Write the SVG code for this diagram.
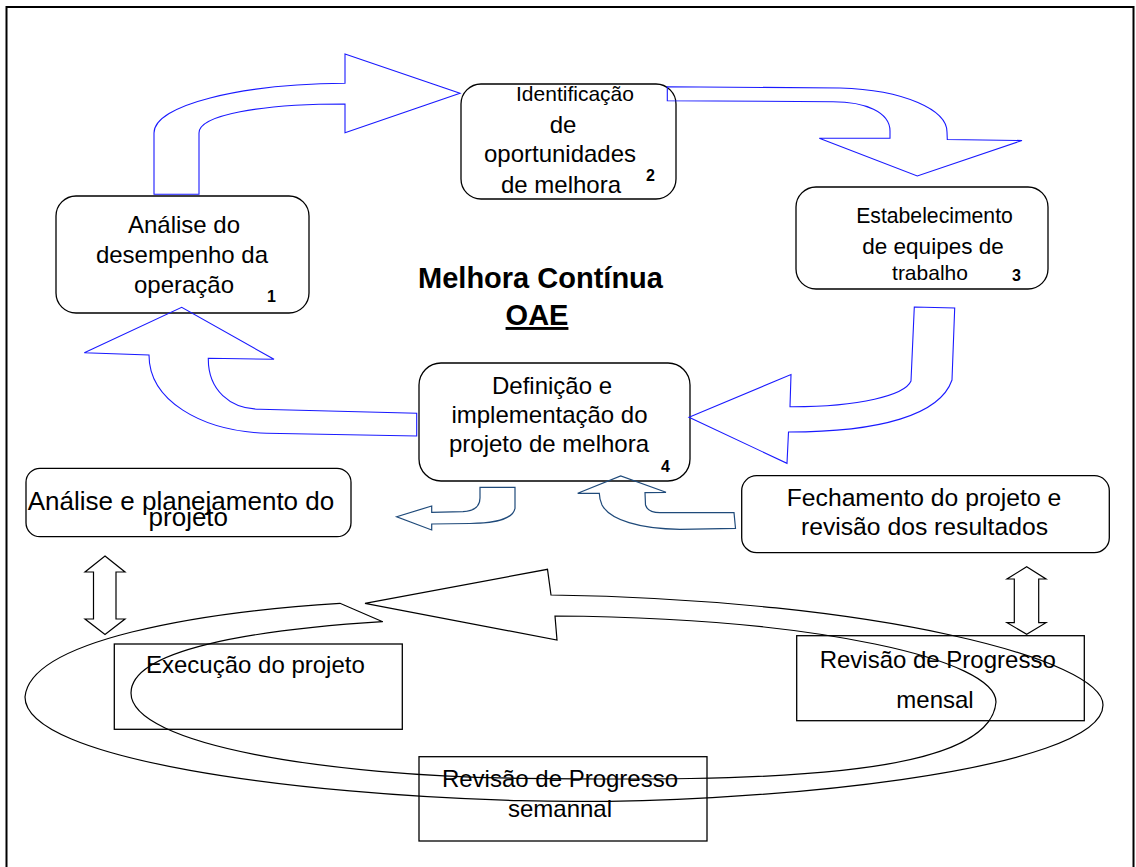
<svg xmlns="http://www.w3.org/2000/svg" width="1136" height="867" viewBox="0 0 1136 867">
  <style>
    .t { font-family: "Liberation Sans", Arial, sans-serif; fill: #000; }
    .c { text-anchor: middle; }
    .num { font-family: "Liberation Sans", Arial, sans-serif; font-weight: bold; font-size: 16px; fill: #000; }
    .box { fill: none; stroke: #000; stroke-width: 1.3; }
    .blue { fill: none; stroke: #1a1aff; stroke-width: 1.1; stroke-linejoin: miter; }
    .navy { fill: none; stroke: #1f4a7a; stroke-width: 1.2; }
    .blk { fill: none; stroke: #000; stroke-width: 1.2; }
  </style>

  <!-- page frame -->
  <rect x="6.5" y="7" width="1127" height="870" fill="#fff" stroke="#000" stroke-width="2"/>

  <!-- title -->
  <g id="title" class="t" font-weight="bold" font-size="29">
    <text x="540.5" y="288" class="c">Melhora Contínua</text>
    <text x="537" y="325" class="c" text-decoration="underline">OAE</text>
  </g>

  <!-- 1: performance analysis -->
  <g id="node1">
    <rect class="box" x="56" y="196" width="253" height="117" rx="20"/>
    <text class="t c" font-size="24" x="184" y="233">Análise do</text>
    <text class="t c" font-size="24" x="182" y="263">desempenho da</text>
    <text class="t c" font-size="24" x="184" y="293">operação</text>
    <text class="num" font-size="17" x="267" y="302">1</text>
  </g>

  <!-- 2: improvement opportunities -->
  <g id="node2">
    <rect class="box" x="461" y="84" width="215" height="115" rx="20"/>
    <text class="t c" font-size="21" x="575" y="101">Identificação</text>
    <text class="t c" font-size="24" x="563" y="133">de</text>
    <text class="t c" font-size="24" x="560" y="162">oportunidades</text>
    <text class="t c" font-size="24" x="561" y="193">de melhora</text>
    <text class="num" x="646" y="181">2</text>
  </g>

  <!-- 3: team set-up -->
  <g id="node3">
    <rect class="box" x="796" y="187" width="252" height="102" rx="20"/>
    <text class="t c" font-size="21.2" x="934.5" y="223">Estabelecimento</text>
    <text class="t c" font-size="22.5" x="933" y="254">de equipes de</text>
    <text class="t c" font-size="21" x="930" y="280">trabalho</text>
    <text class="num" x="1012" y="281">3</text>
  </g>

  <!-- 4: project definition -->
  <g id="node4">
    <rect class="box" x="419" y="363" width="271" height="118" rx="22"/>
    <text class="t c" font-size="24" x="552" y="394">Definição e</text>
    <text class="t c" font-size="24" x="549.5" y="423">implementação do</text>
    <text class="t c" font-size="24" x="549" y="452">projeto de melhora</text>
    <text class="num" x="661" y="472">4</text>
  </g>

  <!-- project planning -->
  <g id="planning">
    <rect class="box" x="26" y="468.3" width="325" height="68.4" rx="14"/>
    <text class="t c" font-size="26" x="181" y="510">Análise e planejamento do</text>
    <text class="t c" font-size="26" x="188.3" y="526">projeto</text>
  </g>

  <!-- project closing -->
  <g id="closing">
    <rect class="box" x="741.7" y="475.7" width="367.6" height="77" rx="15"/>
    <text class="t c" font-size="24.7" x="924" y="505.7">Fechamento do projeto e</text>
    <text class="t c" font-size="24.7" x="924.5" y="535">revisão dos resultados</text>
  </g>

  <!-- project execution -->
  <g id="execution">
    <rect class="box" x="114.3" y="644" width="288" height="85.3"/>
    <text class="t" font-size="24" x="146" y="673.3">Execução do projeto</text>
  </g>

  <!-- monthly review -->
  <g id="monthly">
    <rect class="box" x="796.7" y="635.7" width="287.6" height="85"/>
    <text class="t c" font-size="24" x="937.7" y="668.3">Revisão de Progresso</text>
    <text class="t c" font-size="24" x="935" y="708.3">mensal</text>
  </g>

  <!-- weekly review -->
  <g id="weekly">
    <rect class="box" x="419" y="756.7" width="288" height="84.3"/>
    <text class="t c" font-size="24" x="560" y="787">Revisão de Progresso</text>
    <text class="t c" font-size="24" x="560" y="816.7">semannal</text>
  </g>

  <!-- connectors -->
  <g id="connectors">
    <!-- 1 to 2 -->
    <path class="blue" d="M154 194.3 L154 133 C154 105 240 84 345 83.3 L345 54 L460 93.3 L345 132.7 L345 104 C260 104 199 115 199 133 L199 194.3 Z"/>
    <!-- 2 to 3 -->
    <path class="blue" d="M667.3 86.7 L840 88 C905 90 947 110 947 132 L947.3 139.5 L1022 140.5 L917.3 176 L819.3 138.3 L890 138.3 L890 131 C890 112 865 101.7 833 101.7 L667.3 100.7 Z"/>
    <!-- 3 to 4 -->
    <path class="blue" d="M914.3 307 L954.7 308 L952 380 C940 415 880 432 788.5 432 L787 463.3 L689 417.3 L791 374.5 L790 406.7 C860 407 905 395 911 381 Z"/>
    <!-- 4 to 1 -->
    <path class="blue" d="M416.7 413.3 L416.7 436 L266.7 433.3 C200 431 149 400 149 355 L84.3 352.7 L181.7 307.3 L274 359.3 L208.3 358.3 C208 390 230 409 260 409.3 Z"/>

    <!-- 4 to planning -->
    <path class="navy" d="M480 487.3 L515 487.3 L515 508.3 C513 518 500 523 470 523.5 L431.7 524 L431.7 530 L396.7 516.7 L431.7 506 L431.7 512.3 L463 511.7 C474 511 480 506 480 498 Z"/>
    <!-- closing to 4 -->
    <path class="navy" d="M599.3 493.3 L577.7 493.3 L620.7 476 L666 492.3 L645 492.7 L645.5 505 C647 510 652 512.7 660 512.7 L734 512.7 L735.5 528.3 L680 529.3 C640 529 610 520 602 505 C600 500 599.3 497 599.3 493.3 Z"/>

    <!-- planning <-> execution -->
    <polygon class="blk" points="105,556 125,572 116,572 116,619 125,619 105,634.5 85,619 93.5,619 93.5,572 85,572"/>
    <!-- closing <-> monthly -->
    <polygon class="blk" points="1026.7,566.7 1046,579 1038.7,579 1038.7,622.7 1046,622.7 1026.7,634.3 1007,622.7 1014.3,622.7 1014.3,579 1007,579"/>

    <!-- review cycle: circular band arrow -->
    <path class="blk" d="M340 603.3 C200 612 30 640 25 697 C25 760 300 795 520 800.7 C760 807 1103 770 1103 705 C1103 660 880 600 551 595 L547.5 569.3 L365 603.3 L557 640 L555 616 C820 618 996 660 996 702 C990 780 750 781 520 778.3 C330 776 131 745 131 693 C131 650 250 630 382.7 621.7 Z"/>
  </g>
</svg>
